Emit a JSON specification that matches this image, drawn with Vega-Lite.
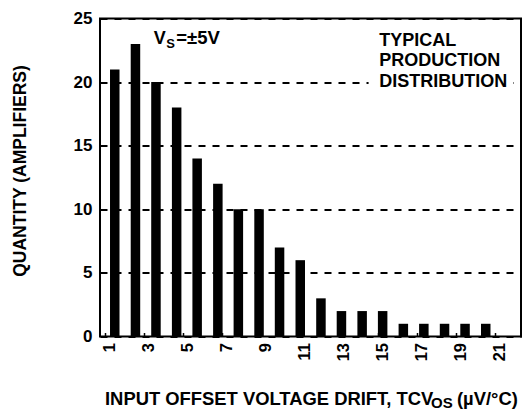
{
  "$schema": "https://vega.github.io/schema/vega-lite/v6.json",
  "width": 421,
  "height": 318,
  "autosize": {"type": "none"},
  "padding": {"left": 100, "top": 18.5, "right": 2, "bottom": 74.5},
  "background": "white",
  "config": {
    "view": {"stroke": "black", "strokeWidth": 2},
    "font": "Liberation Sans",
    "text": {"font": "Liberation Sans", "fontWeight": "bold", "color": "black"}
  },
  "layer": [
    {
      "data": {
        "values": [
          {"drift": 1.5, "quantity": 21},
          {"drift": 2.56, "quantity": 23},
          {"drift": 3.61, "quantity": 20},
          {"drift": 4.67, "quantity": 18},
          {"drift": 5.72, "quantity": 14},
          {"drift": 6.78, "quantity": 12},
          {"drift": 7.83, "quantity": 10},
          {"drift": 8.89, "quantity": 10},
          {"drift": 9.94, "quantity": 7},
          {"drift": 11.0, "quantity": 6},
          {"drift": 12.06, "quantity": 3},
          {"drift": 13.11, "quantity": 2},
          {"drift": 14.17, "quantity": 2},
          {"drift": 15.22, "quantity": 2},
          {"drift": 16.28, "quantity": 1},
          {"drift": 17.33, "quantity": 1},
          {"drift": 18.39, "quantity": 1},
          {"drift": 19.44, "quantity": 1},
          {"drift": 20.5, "quantity": 1}
        ]
      },
      "mark": {"type": "bar", "color": "black", "width": 9.5},
      "encoding": {
        "x": {
          "field": "drift",
          "type": "quantitative",
          "scale": {"domain": [1, 22.05], "nice": false, "zero": false},
          "axis": {
            "title": null,
            "values": [1, 2, 3, 4, 5, 6, 7, 8, 9, 10, 11, 12, 13, 14, 15, 16, 17, 18, 19, 20, 21],
            "labelExpr": "datum.value % 2 == 1 ? datum.label : ''",
            "labelAngle": 270,
            "labelFont": "Liberation Sans",
            "labelFontSize": 16.5,
            "labelFontWeight": "bold",
            "labelColor": "black",
            "labelPadding": 10,
            "labelOffset": 4,
            "labelFlush": false,
            "labelOverlap": false,
            "tickSize": -4,
            "tickColor": "black",
            "tickWidth": 1.5,
            "domain": false,
            "grid": false
          }
        },
        "y": {
          "field": "quantity",
          "type": "quantitative",
          "scale": {"domain": [0, 25], "nice": false},
          "axis": {
            "title": "QUANTITY (AMPLIFIERS)",
            "values": [0, 5, 10, 15, 20, 25],
            "grid": true,
            "gridDash": [7, 7],
            "gridColor": "black",
            "gridWidth": 1.8,
            "gridOpacity": 1,
            "ticks": false,
            "domain": false,
            "labelPadding": 8,
            "labelFont": "Liberation Sans",
            "labelFontSize": 17,
            "labelFontWeight": "bold",
            "labelColor": "black",
            "labelFlush": false,
            "labelOverlap": false,
            "titleFont": "Liberation Sans",
            "titleFontSize": 17.5,
            "titleFontWeight": "bold",
            "titleColor": "black",
            "titleX": -75,
            "titleY": 152,
            "titleAngle": 270,
            "titleBaseline": "alphabetic",
            "titleAlign": "center"
          }
        }
      }
    },
    {
      "data": {"values": [{}]},
      "mark": {"type": "rect", "fill": "white"},
      "encoding": {
        "x": {"datum": 14.5},
        "x2": {"datum": 21.9},
        "y": {"datum": 18.7},
        "y2": {"datum": 24.6}
      }
    },
    {
      "data": {"values": [{}]},
      "mark": {"type": "text", "text": ["TYPICAL", "PRODUCTION", "DISTRIBUTION"], "align": "left", "baseline": "alphabetic", "fontSize": 18, "lineHeight": 20.5, "fontWeight": "bold", "font": "Liberation Sans", "color": "black"},
      "encoding": {"x": {"datum": 15.05}, "y": {"datum": 22.86}}
    },
    {
      "data": {"values": [{}]},
      "mark": {"type": "text", "text": "V", "align": "left", "baseline": "alphabetic", "fontSize": 18, "fontWeight": "bold", "font": "Liberation Sans", "color": "black"},
      "encoding": {"x": {"datum": 3.5}, "y": {"datum": 22.97}}
    },
    {
      "data": {"values": [{}]},
      "mark": {"type": "text", "text": "S", "align": "left", "baseline": "alphabetic", "fontSize": 13, "dx": 12.5, "dy": 4, "fontWeight": "bold", "font": "Liberation Sans", "color": "black"},
      "encoding": {"x": {"datum": 3.5}, "y": {"datum": 22.97}}
    },
    {
      "data": {"values": [{}]},
      "mark": {"type": "text", "text": "=±5V", "align": "left", "baseline": "alphabetic", "fontSize": 18.5, "dx": 22.5, "fontWeight": "bold", "font": "Liberation Sans", "color": "black"},
      "encoding": {"x": {"datum": 3.5}, "y": {"datum": 22.97}}
    },
    {
      "data": {"values": [{}]},
      "mark": {"type": "text", "text": "INPUT OFFSET VOLTAGE DRIFT, TCV", "align": "left", "baseline": "alphabetic", "fontSize": 18.4, "fontWeight": "bold", "font": "Liberation Sans", "color": "black"},
      "encoding": {"x": {"datum": 1}, "y": {"datum": -5.38}}
    },
    {
      "data": {"values": [{}]},
      "mark": {"type": "text", "text": "OS", "align": "left", "baseline": "alphabetic", "fontSize": 15, "dx": 326, "dy": 3.5, "fontWeight": "bold", "font": "Liberation Sans", "color": "black"},
      "encoding": {"x": {"datum": 1}, "y": {"datum": -5.38}}
    },
    {
      "data": {"values": [{}]},
      "mark": {"type": "text", "text": "(µV/°C)", "align": "left", "baseline": "alphabetic", "fontSize": 18.4, "dx": 352, "fontWeight": "bold", "font": "Liberation Sans", "color": "black"},
      "encoding": {"x": {"datum": 1}, "y": {"datum": -5.38}}
    }
  ]
}
